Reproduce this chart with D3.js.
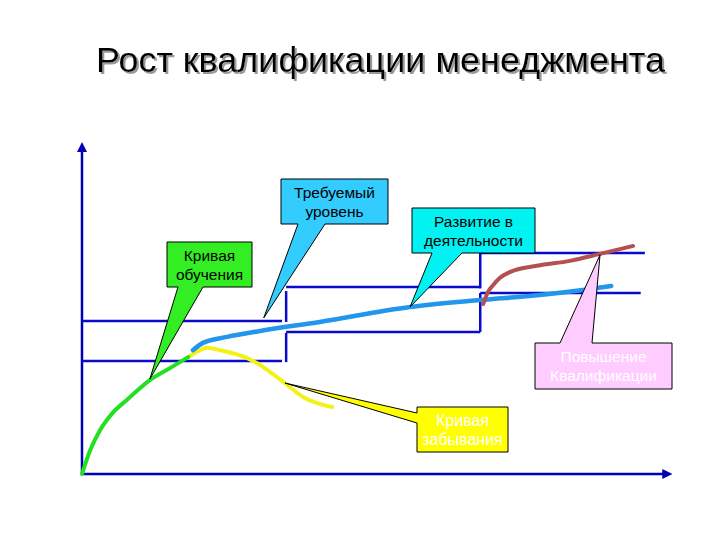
<!DOCTYPE html>
<html>
<head>
<meta charset="utf-8">
<script src="https://cdn.jsdelivr.net/npm/d3@7"></script>
<style>
  html, body { margin: 0; padding: 0; background: #ffffff; }
  svg { display: block; }
  text { font-family: "Liberation Sans", Arial, sans-serif; }
</style>
</head>
<body>
<svg id="chart" width="720" height="540"></svg>
<script>
// ---------- DATA (abstract units: time 0..100, qualification 0..100) ----------
const titleText = "Рост квалификации менеджмента";

// Learning curve (green)
const learnX = [0, 1.4, 3.1, 5.2, 7.6, 11.5, 14.9, 18.0];
const learnY = [0, 7.2, 13.3, 18.4, 22.3, 28.3, 31.9, 35.2];

// Forgetting curve (yellow)
const forgetX = [18.0, 20.0, 21.2, 23.4, 28.0, 30.5, 31.9, 34.4, 37.5, 40.3, 42.4];
const forgetY = [35.2, 37.3, 38.0, 37.3, 34.9, 32.5, 30.7, 27.4, 23.2, 21.1, 20.2];

// Development in activity (light blue)
const devX = [18.8, 20.5, 24.6, 30.2, 40.3, 55.6, 67.5, 77.6, 84.9, 89.7];
const devY = [37.3, 39.5, 41.3, 43.1, 45.8, 50.3, 52.4, 53.9, 55.4, 56.6];

// Qualification upgrade (brown)
const upX = [68.0, 68.8, 69.7, 70.8, 72.5, 77.1, 82.7, 87.8, 93.4];
const upY = [51.2, 54.8, 56.9, 59.0, 60.8, 62.7, 64.2, 66.3, 68.7];

// Required level bands (staircase): x1, x2, y1, y2
const bandX1 = [0,    0,    34.6, 34.6, 34.6, 34.6, 67.5, 67.5, 67.5, 67.5];
const bandX2 = [33.9, 33.9, 34.6, 34.6, 67.5, 67.5, 67.5, 67.5, 95.4, 94.7];
const bandY1 = [46.1, 34.0, 55.1, 42.5, 56.3, 42.8, 66.6, 54.5, 66.6, 54.5];
const bandY2 = [46.1, 34.0, 45.8, 33.7, 56.3, 42.8, 55.9, 42.8, 66.6, 54.5];

// Callout labels and the data points they point at
const calloutLines = [
  ["Кривая", "обучения"],
  ["Требуемый", "уровень"],
  ["Развитие в", "деятельности"],
  ["Повышение", "Квалификации"],
  ["Кривая", "забывания"]
];
const calloutTipX = [11.5, 30.8, 55.6, 87.8, 34.4];
const calloutTipY = [28.6, 47.0, 50.3, 66.0, 27.4];

// ---------- LAYOUT / STYLE ----------
const svg = d3.select("#chart");
const x = d3.scaleLinear().domain([0, 100]).range([82, 672]);
const y = d3.scaleLinear().domain([0, 100]).range([474, 142]);

const defs = svg.append("defs");
const f = defs.append("filter").attr("id", "shadow")
  .attr("x", "-5%").attr("y", "-20%").attr("width", "110%").attr("height", "150%");
f.append("feDropShadow").attr("dx", 2).attr("dy", 2).attr("stdDeviation", 0.3)
  .attr("flood-color", "#9a9a9a").attr("flood-opacity", 1);

// Title with shadow
const tMain = svg.append("text")
  .attr("x", 96).attr("y", 72)
  .attr("fill", "#000000")
  .attr("font-size", 38)
  .attr("filter", "url(#shadow)")
  .text(titleText);
const wantW = 569;
const gotW = tMain.node().getComputedTextLength();
tMain.attr("font-size", 38 * wantW / gotW);

// Axes
const axisColor = "#0000b4";
defs.append("marker")
  .attr("id", "arrow")
  .attr("viewBox", "0 0 10 10")
  .attr("refX", 5).attr("refY", 5)
  .attr("markerWidth", 4).attr("markerHeight", 4)
  .attr("orient", "auto")
  .append("path").attr("d", "M0,0 L10,5 L0,10 Z").attr("fill", axisColor);

svg.append("line")
  .attr("x1", x(0)).attr("y1", y(0))
  .attr("x2", x(0)).attr("y2", y(98.5))
  .attr("stroke", axisColor).attr("stroke-width", 2.5)
  .attr("marker-end", "url(#arrow)");
svg.append("line")
  .attr("x1", x(0)).attr("y1", y(0))
  .attr("x2", x(99.2)).attr("y2", y(0))
  .attr("stroke", axisColor).attr("stroke-width", 2.5)
  .attr("marker-end", "url(#arrow)");

// Band staircase
const bands = bandX1.map((d, i) => ({ x1: d, x2: bandX2[i], y1: bandY1[i], y2: bandY2[i] }));
svg.append("g").selectAll("line").data(bands).join("line")
  .attr("x1", d => x(d.x1)).attr("x2", d => x(d.x2))
  .attr("y1", d => y(d.y1)).attr("y2", d => y(d.y2))
  .attr("stroke", "#0a0acc").attr("stroke-width", 2.5);

// Curves
const lineGen = d3.line().x(d => x(d[0])).y(d => y(d[1])).curve(d3.curveMonotoneX);
function drawCurve(xs, ys, color, w) {
  const pts = xs.map((v, i) => [v, ys[i]]);
  svg.append("path").attr("d", lineGen(pts))
    .attr("fill", "none").attr("stroke", color)
    .attr("stroke-width", w).attr("stroke-linecap", "round").attr("stroke-linejoin", "round");
}
drawCurve(forgetX, forgetY, "#f2f21a", 4);
drawCurve(learnX, learnY, "#22e022", 4);
drawCurve(devX, devY, "#2296ea", 4.5);
drawCurve(upX, upY, "#b45050", 4);

// Callouts
const callStyle = [
  { box: [167, 242, 252, 287], side: "bottom", base: [178, 203], fill: "#33ee22", text: "#000000", fs: 15.5 },
  { box: [281, 179, 388, 224], side: "bottom", base: [298, 325], fill: "#33ccff", text: "#000000", fs: 15.5 },
  { box: [412, 208, 535, 253], side: "bottom", base: [432, 462], fill: "#00f2f2", text: "#000000", fs: 15.5 },
  { box: [535, 343, 672, 389], side: "top",    base: [560, 592], fill: "#ffccff", text: "#ffffff", fs: 15.5 },
  { box: [417, 407, 508, 452], side: "left",   base: [413, 423], fill: "#ffff00", text: "#ffffff", fs: 16 }
];

const cg = svg.append("g");
callStyle.forEach((s, i) => {
  const [x0, y0, x1, y1] = s.box;
  const tx = x(calloutTipX[i]), ty = y(calloutTipY[i]);
  const p = d3.path();
  if (s.side === "bottom") {
    p.moveTo(x0, y0); p.lineTo(x1, y0); p.lineTo(x1, y1);
    p.lineTo(s.base[1], y1); p.lineTo(tx, ty); p.lineTo(s.base[0], y1);
    p.lineTo(x0, y1); p.closePath();
  } else if (s.side === "top") {
    p.moveTo(x0, y0); p.lineTo(s.base[0], y0); p.lineTo(tx, ty); p.lineTo(s.base[1], y0);
    p.lineTo(x1, y0); p.lineTo(x1, y1); p.lineTo(x0, y1); p.closePath();
  } else {
    p.moveTo(x0, y0); p.lineTo(x1, y0); p.lineTo(x1, y1); p.lineTo(x0, y1);
    p.lineTo(x0, s.base[1]); p.lineTo(tx, ty); p.lineTo(x0, s.base[0]); p.closePath();
  }
  cg.append("path").attr("d", p.toString())
    .attr("fill", s.fill).attr("stroke", "#000000").attr("stroke-width", 1)
    .attr("stroke-linejoin", "miter");
  const cx = (x0 + x1) / 2;
  const midY = (y0 + y1) / 2;
  const lh = 19;
  calloutLines[i].forEach((t, k) => {
    cg.append("text")
      .attr("x", cx)
      .attr("y", midY + (k - (calloutLines[i].length - 1) / 2) * lh + s.fs * 0.36)
      .attr("text-anchor", "middle")
      .attr("font-size", s.fs)
      .attr("fill", s.text)
      .text(t);
  });
});
</script>
</body>
</html>
